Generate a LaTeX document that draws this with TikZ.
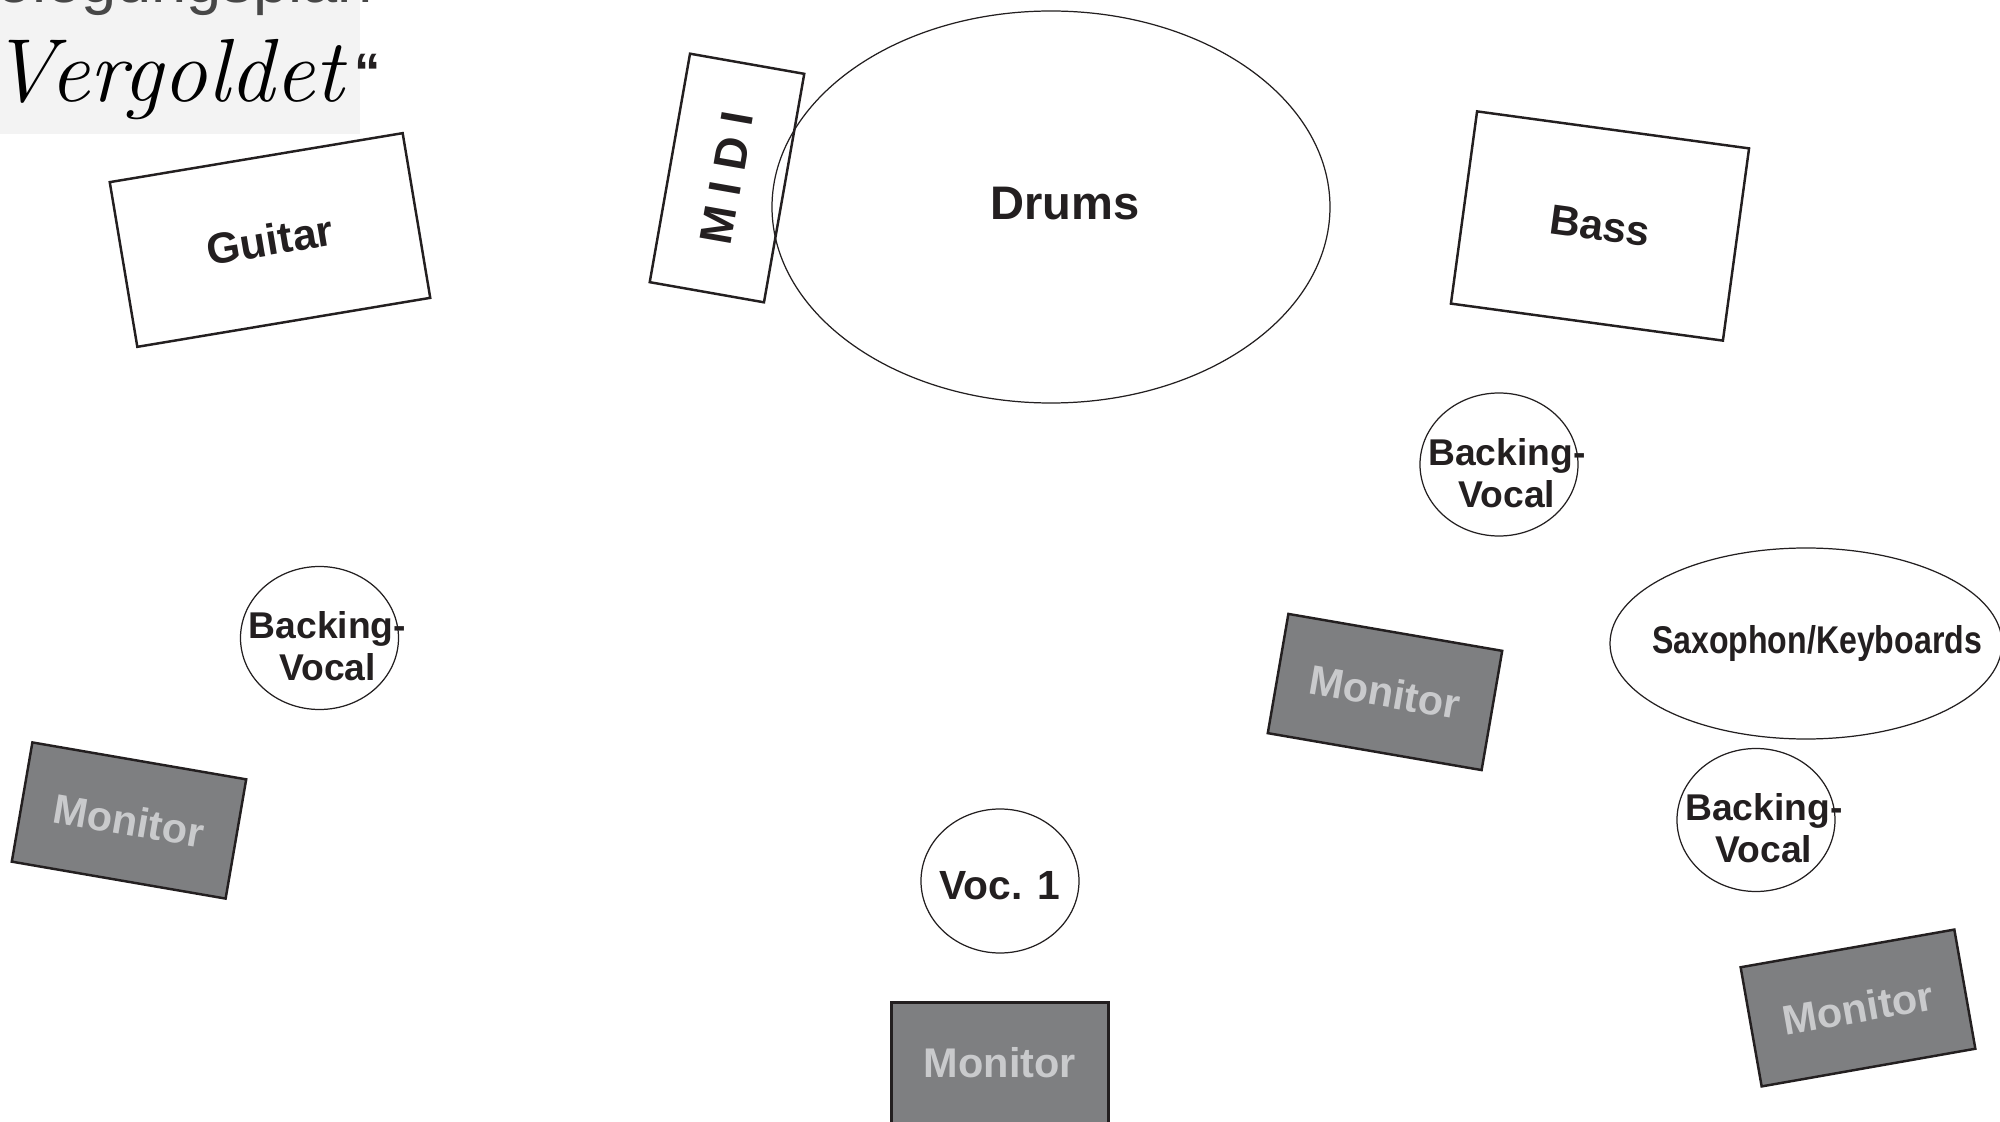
\documentclass[tikz,border=0pt]{standalone}
\usepackage{fontspec}
\newfontfamily\arial{Liberation Sans}
\usetikzlibrary{calc,shapes.geometric}
\definecolor{ink}{HTML}{231F20}
\definecolor{monfill}{HTML}{7E7F81}
\definecolor{montext}{HTML}{C9CACC}
\definecolor{paper}{HTML}{F3F3F3}
\newcommand\myfs[1]{\arial\bfseries\fontsize{#1}{#1}\selectfont}
\begin{document}
\begin{tikzpicture}[x=0.1mm,y=-0.1mm,
  instbox/.style={draw=ink, line width=0.7pt, rectangle, inner sep=0pt, text=ink},
  ring/.style={draw=ink, line width=0.35pt, ellipse, inner sep=0pt},
  lbl/.style={text=ink, inner sep=0pt, align=center},
  bvtext/.style={text=ink, inner sep=0pt, align=center, font=\arial\bfseries\fontsize{10.6}{12}\selectfont},
  monbox/.style={draw=ink, line width=0.7pt, fill=monfill, rectangle, inner sep=0pt,
    minimum width=21.7mm, minimum height=12.1mm, text=montext, font=\myfs{11.8}}]
\useasboundingbox (0,0) rectangle (2000,1122);
\clip (0,0) rectangle (2000,1122);
\fill[white] (0,0) rectangle (2000,1122);
% title area
\fill[paper] (0,0) rectangle (360,134);
\node[anchor=base east, inner sep=0pt, text=black!72, font=\arial\fontsize{18}{18}\selectfont] (title) at (374,3) {Bühnenbelegungsplan};
\node[anchor=base west, inner sep=0pt, text=black, font=\itshape\fontsize{25.5}{25.5}\selectfont] (vergoldet) at (-10,102) {Vergoldet};
\node[anchor=center, inner sep=0pt, text=ink, font=\myfs{15}] (quote) at (368,72) {“};
% instruments
\node[instbox, minimum width=29.7mm, minimum height=16.7mm, rotate=9.5, font=\myfs{12.3}] (guitar) at (270,240) {Guitar};
\node[instbox, minimum width=23.2mm, minimum height=11.6mm, rotate=80, font=\myfs{13}] (midi) at (727,178) {M I D I};
\node[ring, minimum width=55.8mm, minimum height=39.2mm] (drums) at (1051,207) {};
\node[lbl, font=\myfs{13.4}] (drumstext) at ($(drums)+(14,-3)$) {Drums};
\node[instbox, minimum width=27.45mm, minimum height=19.4mm, rotate=-7.75, font=\myfs{12}] (bass) at (1600,226) {Bass};
% vocals
\node[ring, minimum width=15.8mm, minimum height=14.3mm] (bvl) at (319.5,638) {};
\node[bvtext] (bvltext) at ($(bvl)+(8,8.5)$) {Backing-\\Vocal};
\node[ring, minimum width=15.8mm, minimum height=14.3mm] (bvtr) at (1499,464.5) {};
\node[bvtext] (bvtrtext) at ($(bvtr)+(8,9)$) {Backing-\\Vocal};
\node[ring, minimum width=15.8mm, minimum height=14.3mm] (bvbr) at (1756,820) {};
\node[bvtext] (bvbrtext) at ($(bvbr)+(8,8.5)$) {Backing-\\Vocal};
\node[ring, minimum width=15.8mm, minimum height=14.4mm] (voc) at (1000,881) {};
\node[lbl, font=\myfs{11.6}] (voctext) at ($(voc)+(0,5)$) {Voc. 1};
\node[ring, minimum width=39.2mm, minimum height=19.1mm] (sax) at (1806,643.5) {};
\node[lbl, font=\myfs{11}] (saxtext) at ($(sax)+(11,0)$) {\scalebox{0.83}[1]{Saxophon/Keyboards}};
% monitors
\node[monbox, rotate=-9.8] (monl) at (129,820.5) {Monitor};
\node[monbox, rotate=-9.8] (monm) at (1385,692) {Monitor};
\node[monbox] (monc) at (1000,1063) {Monitor};
\node[monbox, rotate=10] (monr) at (1858,1008) {Monitor};
\end{tikzpicture}
\end{document}
